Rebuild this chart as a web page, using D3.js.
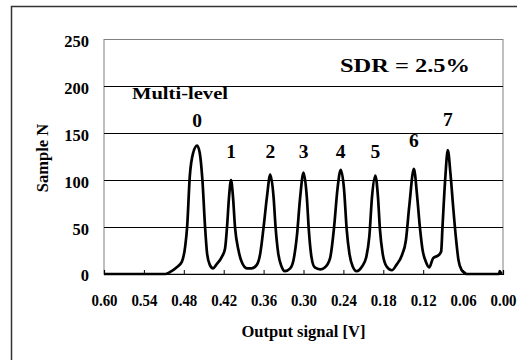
<!DOCTYPE html>
<html>
<head>
<meta charset="utf-8">
<script src="https://cdn.jsdelivr.net/npm/d3@7"></script>
<style>
  html, body { margin: 0; padding: 0; background: #fff; }
  svg { display: block; }
  text { font-family: "Liberation Serif", "Times New Roman", serif; font-weight: bold; fill: #000; }
</style>
</head>
<body>
<svg id="chart" width="517" height="360"></svg>
<script>
// Histogram of output signal levels (sample counts per voltage bin)
const volts = [
  0.600, 0.508, 0.501, 0.491, 0.483, 0.478, 0.475, 0.471, 0.466, 0.460,
  0.456, 0.452, 0.448, 0.445, 0.441, 0.436, 0.431, 0.423, 0.418, 0.415,
  0.412, 0.409, 0.406, 0.403, 0.398, 0.393, 0.385, 0.378, 0.370, 0.365,
  0.360, 0.355, 0.350, 0.345, 0.342, 0.338, 0.333, 0.328, 0.320, 0.315,
  0.310, 0.305, 0.300, 0.295, 0.292, 0.288, 0.283, 0.275, 0.268, 0.260,
  0.254, 0.249, 0.244, 0.239, 0.235, 0.231, 0.226, 0.220, 0.212, 0.206,
  0.201, 0.197, 0.192, 0.188, 0.185, 0.181, 0.175, 0.167, 0.160, 0.152,
  0.146, 0.141, 0.134, 0.129, 0.125, 0.121, 0.116, 0.111, 0.105, 0.097,
  0.093, 0.091, 0.087, 0.083, 0.079, 0.075, 0.071, 0.067, 0.062, 0.057,
  0.055, 0.006, 0.005, 0.003, 0.001
];
const counts = [
  0, 0, 2, 7, 13, 29, 50, 104, 129, 137,
  129, 100, 50, 22, 10, 6, 10, 18, 27, 50,
  82, 100, 82, 50, 26, 13, 6, 6, 10, 22,
  50, 82, 106, 82, 50, 22, 8, 3, 6, 15,
  40, 82, 108, 82, 47, 18, 7, 5, 7, 17,
  50, 90, 111, 90, 47, 22, 8, 3, 8, 17,
  40, 82, 105, 82, 47, 22, 8, 4, 10, 20,
  36, 72, 112, 82, 50, 26, 13, 7, 17, 20,
  24, 50, 100, 132, 107, 72, 40, 15, 4, 1,
  0, 0, 3, 1, 1
];

// Level annotations: peak voltage and the count height of each label
const levelNames = ["0", "1", "2", "3", "4", "5", "6", "7"];
const levelPeakVolts = [0.460, 0.409, 0.350, 0.300, 0.244, 0.192, 0.134, 0.083];
const levelLabelCounts = [157, 124, 124, 124, 124, 124, 135, 158];

const xTicks = [0.60, 0.54, 0.48, 0.42, 0.36, 0.30, 0.24, 0.18, 0.12, 0.06, 0.00];
const yTicks = [0, 50, 100, 150, 200, 250];

const svg = d3.select("#chart");
const W = 517, H = 360;
const plot = { left: 104, right: 503, top: 39.5, bottom: 274 };

svg.append("rect").attr("width", W).attr("height", H).attr("fill", "#fff");

// outer chart frame
svg.append("rect")
  .attr("x", 11.5).attr("y", 6.5)
  .attr("width", 700).attr("height", 500)
  .attr("fill", "none").attr("stroke", "#333").attr("stroke-width", 1.5);

const x = d3.scaleLinear().domain([0.60, 0]).range([plot.left, plot.right]);
const y = d3.scaleLinear().domain([0, 250]).range([plot.bottom, plot.top]);

// plot area frame
svg.append("rect")
  .attr("x", plot.left).attr("y", plot.top)
  .attr("width", plot.right - plot.left).attr("height", plot.bottom - plot.top)
  .attr("fill", "none").attr("stroke", "#808080").attr("stroke-width", 1);

// horizontal gridlines
svg.append("g")
  .selectAll("line")
  .data(yTicks.filter(d => d > 0 && d < 250))
  .join("line")
  .attr("x1", plot.left).attr("x2", plot.right)
  .attr("y1", d => Math.round(y(d)) + 0.5).attr("y2", d => Math.round(y(d)) + 0.5)
  .attr("stroke", "#000").attr("stroke-width", 1);

// y axis labels
const yAxis = svg.append("g")
  .attr("transform", `translate(${plot.left},0)`)
  .call(d3.axisLeft(y).tickValues(yTicks).tickSize(0).tickPadding(15).tickFormat(d3.format("d")));
yAxis.select(".domain").remove();
yAxis.selectAll("text")
  .attr("font-size", 16.5)
  .attr("font-family", "Liberation Serif")
  .attr("font-weight", "bold")
  .attr("dy", "0.42em");

// x axis (reversed voltage scale) with inward ticks
const xAxis = svg.append("g")
  .attr("transform", `translate(0,${plot.bottom})`)
  .call(d3.axisBottom(x).tickValues(xTicks).tickSize(-4).tickPadding(21).tickFormat(d3.format(".2f")));
xAxis.select(".domain").attr("stroke", "#000").attr("stroke-width", 1.2);
xAxis.selectAll(".tick line").attr("stroke", "#000");
xAxis.selectAll("text")
  .attr("font-size", 16)
  .attr("font-family", "Liberation Serif")
  .attr("font-weight", "bold")
  .attr("textLength", 26).attr("lengthAdjust", "spacingAndGlyphs");

// histogram trace
const series = volts.map((v, i) => ({ v, n: counts[i] }));
svg.append("path")
  .datum(series)
  .attr("fill", "none")
  .attr("stroke", "#000")
  .attr("stroke-width", 2.7)
  .attr("stroke-linejoin", "round")
  .attr("d", d3.line().curve(d3.curveMonotoneX).x(d => x(d.v)).y(d => y(d.n)));

// level numbers over the peaks
svg.append("g")
  .selectAll("text")
  .data(levelNames)
  .join("text")
  .attr("x", (d, i) => x(levelPeakVolts[i]))
  .attr("y", (d, i) => y(levelLabelCounts[i]))
  .attr("text-anchor", "middle")
  .attr("font-size", 19.5)
  .text(d => d);

svg.append("text")
  .attr("x", 132).attr("y", 99)
  .attr("font-size", 17)
  .attr("textLength", 96).attr("lengthAdjust", "spacingAndGlyphs")
  .text("Multi-level");

svg.append("text")
  .attr("x", 340).attr("y", 72)
  .attr("font-size", 19.5)
  .attr("textLength", 130).attr("lengthAdjust", "spacingAndGlyphs")
  .text("SDR = 2.5%");

// axis titles
svg.append("text")
  .attr("x", (plot.left + plot.right) / 2).attr("y", 337)
  .attr("text-anchor", "middle")
  .attr("font-size", 17)
  .attr("textLength", 124).attr("lengthAdjust", "spacingAndGlyphs")
  .text("Output signal [V]");

svg.append("text")
  .attr("transform", "translate(48,158) rotate(-90)")
  .attr("text-anchor", "middle")
  .attr("font-size", 16.5)
  .text("Sample N");
</script>
</body>
</html>
